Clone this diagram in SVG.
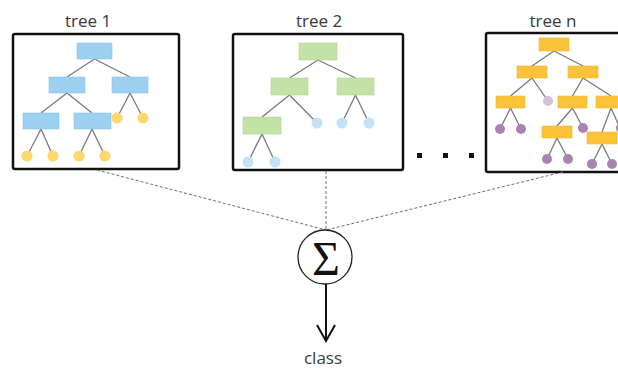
<svg xmlns="http://www.w3.org/2000/svg" width="618" height="371" viewBox="0 0 618 371">
  <style>
    .frame { fill: #ffffff; stroke: #111111; stroke-width: 2.5; }
    .edge { stroke: #7a7a7a; stroke-width: 1.3; fill: none; }
    .blue { fill: #9dd1f1; stroke: #8cc3e6; stroke-width: 0.6; }
    .green { fill: #c3e2a6; stroke: #b2d595; stroke-width: 0.6; }
    .orange { fill: #fcc33a; stroke: #f0b428; stroke-width: 0.6; }
    .yleaf { fill: #fdd86a; }
    .bleaf { fill: #c2e3f5; }
    .pleaf { fill: #a983b2; }
    .pleaf-light { fill: #d7bfd9; }
    .title { font-family: "Open Sans", "Liberation Sans", sans-serif; font-size: 17px; fill: #3a3a3a; text-anchor: middle; }
    .dash { stroke: #6e6e6e; stroke-width: 1; stroke-dasharray: 3 2; fill: none; }
  </style>

  <!-- tree 1 -->
  <g id="tree1">
    <text class="title" x="88" y="27">tree 1</text>
    <rect class="frame" x="13" y="34" width="166" height="135" rx="2"/>
    <g class="edge">
      <path d="M94.5 59 L67 77 M94.5 59 L130 77"/>
      <path d="M67 93 L41 113 M67 93 L92 113"/>
      <path d="M130 93 L117 118 M130 93 L143 118"/>
      <path d="M41 129 L27 156 M41 129 L53 156"/>
      <path d="M92 129 L79 156 M92 129 L105 156"/>
    </g>
    <rect class="blue" x="77" y="43" width="35" height="16"/>
    <rect class="blue" x="49" y="77" width="36" height="16"/>
    <rect class="blue" x="112" y="77" width="36" height="16"/>
    <rect class="blue" x="23" y="113" width="36" height="16"/>
    <rect class="blue" x="74" y="113" width="37" height="16"/>
    <circle class="yleaf" cx="117" cy="118" r="5.5"/>
    <circle class="yleaf" cx="143" cy="118" r="5.5"/>
    <circle class="yleaf" cx="27" cy="156" r="5.5"/>
    <circle class="yleaf" cx="53" cy="156" r="5.5"/>
    <circle class="yleaf" cx="79" cy="156" r="5.5"/>
    <circle class="yleaf" cx="105" cy="156" r="5.5"/>
  </g>

  <!-- tree 2 -->
  <g id="tree2">
    <text class="title" x="319" y="27">tree 2</text>
    <rect class="frame" x="233" y="34" width="170" height="136" rx="2"/>
    <g class="edge">
      <path d="M318 60 L289.5 78 M318 60 L355.5 78"/>
      <path d="M289.5 95 L262 117 M289.5 95 L317 123"/>
      <path d="M355.5 95 L342 123 M355.5 95 L369 123"/>
      <path d="M262 134 L248 162 M262 134 L275 162"/>
    </g>
    <rect class="green" x="299" y="43" width="38" height="17"/>
    <rect class="green" x="271" y="78" width="37" height="17"/>
    <rect class="green" x="337" y="78" width="37" height="17"/>
    <rect class="green" x="243" y="117" width="38" height="17"/>
    <circle class="bleaf" cx="317" cy="123" r="5.5"/>
    <circle class="bleaf" cx="342" cy="123" r="5.5"/>
    <circle class="bleaf" cx="369" cy="123" r="5.5"/>
    <circle class="bleaf" cx="248" cy="162" r="5.5"/>
    <circle class="bleaf" cx="275" cy="162" r="5.5"/>
  </g>

  <!-- ellipsis between trees -->
  <g id="ellipsis" fill="#111111">
    <rect x="417" y="153" width="5" height="5"/>
    <rect x="443" y="153" width="5" height="5"/>
    <rect x="469" y="153" width="5" height="5"/>
  </g>

  <!-- tree n -->
  <g id="treen">
    <text class="title" x="553" y="27">tree n</text>
    <rect class="frame" x="486" y="33" width="150" height="139" rx="2"/>
    <g class="edge">
      <path d="M554 51 L532 66 M554 51 L583 66"/>
      <path d="M532 78 L510.5 96 M532 78 L548 101"/>
      <path d="M583 78 L572.5 96 M583 78 L611 96"/>
      <path d="M510.5 108 L500 129 M510.5 108 L521 129"/>
      <path d="M572.5 108 L557 126 M572.5 108 L583 128"/>
      <path d="M611 108 L602 132 M611 108 L620 128"/>
      <path d="M557 138 L547 159 M557 138 L568 159"/>
      <path d="M602 144 L592 164 M602 144 L612 164"/>
    </g>
    <rect class="orange" x="539" y="38" width="30" height="13"/>
    <rect class="orange" x="517" y="66" width="30" height="12"/>
    <rect class="orange" x="568" y="66" width="30" height="12"/>
    <rect class="orange" x="496" y="96" width="29" height="12"/>
    <rect class="orange" x="558" y="96" width="29" height="12"/>
    <rect class="orange" x="596" y="96" width="30" height="12"/>
    <rect class="orange" x="542" y="126" width="30" height="12"/>
    <rect class="orange" x="587" y="132" width="30" height="12"/>
    <circle class="pleaf-light" cx="548" cy="101" r="5"/>
    <circle class="pleaf" cx="500" cy="129" r="5"/>
    <circle class="pleaf" cx="521" cy="129" r="5"/>
    <circle class="pleaf" cx="583" cy="128" r="5"/>
    <circle class="pleaf" cx="621" cy="128" r="5"/>
    <circle class="pleaf" cx="547" cy="159" r="5"/>
    <circle class="pleaf" cx="568" cy="159" r="5"/>
    <circle class="pleaf" cx="592" cy="164" r="5"/>
    <circle class="pleaf" cx="612" cy="164" r="5"/>
  </g>

  <!-- connectors: tree outputs into the sum, sum into the class -->
  <g id="connectors">
    <path class="dash" d="M97 170 L326 230"/>
    <path class="dash" d="M326 171 L326 230"/>
    <path class="dash" d="M563 172 L326 230"/>
    <path d="M326 284 L326 341" stroke="#111111" stroke-width="2" fill="none"/>
    <path d="M317 325 L326 341 L335 325" stroke="#111111" stroke-width="2" fill="none" stroke-linejoin="miter"/>
  </g>

  <!-- aggregation node -->
  <g id="sum">
    <circle cx="325" cy="257" r="27" fill="#ffffff" stroke="#222222" stroke-width="1.3"/>
    <text x="326" y="275" font-family="Liberation Serif, serif" font-size="48" fill="#111111" text-anchor="middle">Σ</text>
  </g>

  <g id="class">
    <text class="title" x="323" y="364">class</text>
  </g>
</svg>
